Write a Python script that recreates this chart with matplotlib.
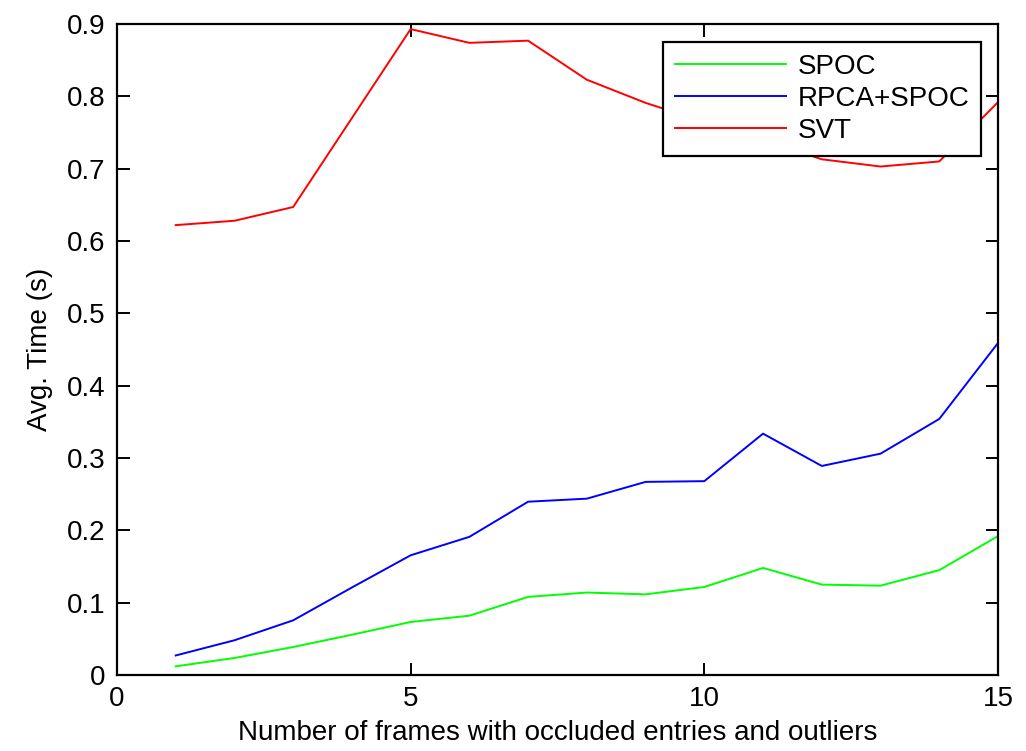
import numpy as np
import matplotlib.pyplot as plt

plt.rcParams['font.family'] = ['Liberation Sans', 'DejaVu Sans']

frames = np.arange(1, 16)
spoc = [0.012, 0.0235, 0.0387, 0.0557, 0.0733, 0.082, 0.108, 0.114, 0.1115,
        0.1217, 0.148, 0.125, 0.1235, 0.145, 0.192]
rpca_spoc = [0.027, 0.048, 0.0756, 0.121, 0.1655, 0.191, 0.2396, 0.2438, 0.267,
             0.268, 0.3337, 0.289, 0.306, 0.354, 0.459]
svt = [0.622, 0.628, 0.647, 0.77, 0.893, 0.874, 0.877, 0.823, 0.791,
       0.765, 0.74, 0.713, 0.703, 0.71, 0.792]

fig = plt.figure(figsize=(10.26, 7.51), dpi=100)
ax = fig.add_axes([0.114, 0.1012, 0.8587, 0.8668])

ax.plot(frames, spoc, color='#00ff00', lw=1.4, label='SPOC')
ax.plot(frames, rpca_spoc, color='#0000ff', lw=1.4, label='RPCA+SPOC')
ax.plot(frames, svt, color='#ff0000', lw=1.4, label='SVT')

ax.set_xlim(0, 15)
ax.set_ylim(0, 0.9)
ax.set_xticks([0, 5, 10, 15])
ax.set_yticks(np.arange(0, 0.91, 0.1))
ax.set_yticklabels(['0'] + ['%.1f' % v for v in np.arange(0.1, 0.91, 0.1)])
ax.tick_params(direction='in', top=True, right=True, labelsize=20, length=9, width=1.4, pad=8)
for s in ax.spines.values():
    s.set_linewidth(1.6)

ax.set_xlabel('Number of frames with occluded entries and outliers', fontsize=20, labelpad=6)
ax.set_ylabel('Avg. Time (s)', fontsize=20, labelpad=10)

leg = ax.legend(loc='upper right', bbox_to_anchor=(0.981, 0.972), borderaxespad=0,
                fontsize=20, handlelength=4.0, handletextpad=0.42, fancybox=False,
                edgecolor='black', framealpha=1, labelspacing=0.22, borderpad=0.42)
leg.get_frame().set_linewidth(1.6)

fig.savefig('out.png', dpi=100)
